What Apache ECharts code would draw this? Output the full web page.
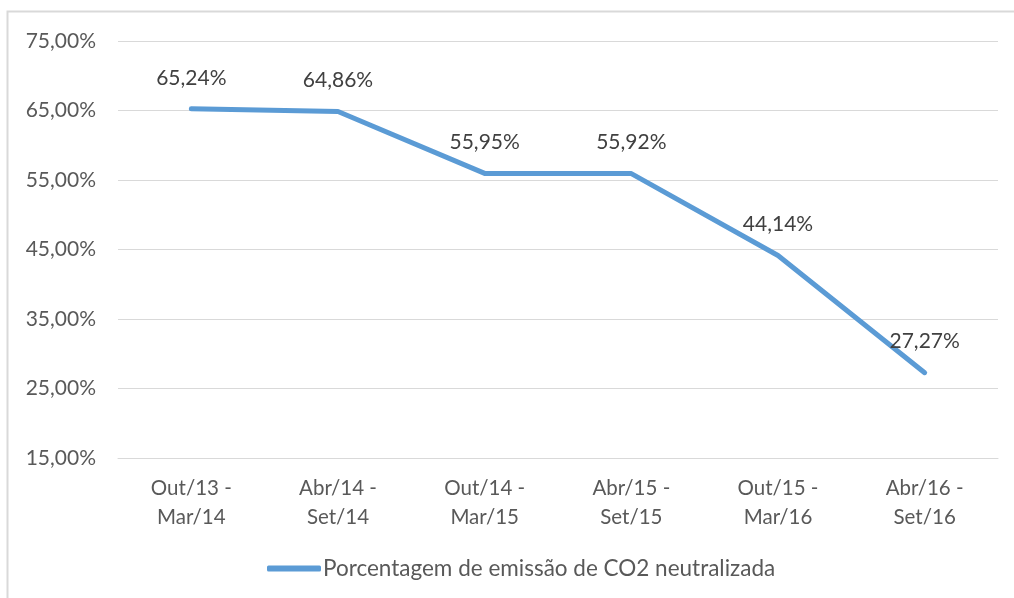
<!DOCTYPE html>
<html>
<head>
<meta charset="utf-8">
<script src="https://cdn.jsdelivr.net/npm/echarts@6/dist/echarts.min.js"></script>
<style>
  html, body { margin: 0; padding: 0; background: #fff; }
  #chart { width: 1014px; height: 598px; }
</style>
</head>
<body>
<div id="chart"></div>
<script>
// Semester periods and share of CO2 emissions neutralized (%)
const categories = [
  'Out/13 -\nMar/14',
  'Abr/14 -\nSet/14',
  'Out/14 -\nMar/15',
  'Abr/15 -\nSet/15',
  'Out/15 -\nMar/16',
  'Abr/16 -\nSet/16'
];
const values = [65.24, 64.86, 55.95, 55.92, 44.14, 27.27];
const seriesName = 'Porcentagem de emissão de CO2 neutralizada';

const FONT = 'Lato, "Open Sans", sans-serif';
const TEXT = '#595959';
const GRID = '#d9d9d9';
const LINE = '#5b9bd5';

const fmt = v => v.toFixed(2).replace('.', ',') + '%';

const chart = echarts.init(document.getElementById('chart'), null, { renderer: 'canvas' });
chart.setOption({
  animation: false,
  backgroundColor: '#fff',
  textStyle: { fontFamily: FONT },
  graphic: [{
    type: 'rect',
    shape: { x: 7.5, y: 11.5, width: 1200, height: 800 },
    style: { fill: 'none', stroke: GRID, lineWidth: 2 },
    silent: true,
    z: -1
  }],
  grid: { left: 118, right: 16, top: 41, bottom: 140, containLabel: false },
  xAxis: {
    type: 'category',
    data: categories,
    boundaryGap: true,
    axisLine: { show: true, lineStyle: { color: GRID, width: 1 } },
    axisTick: { show: false },
    axisLabel: {
      color: TEXT, fontSize: 20.5, fontFamily: FONT,
      lineHeight: 29, margin: 16, interval: 0
    }
  },
  yAxis: {
    type: 'value',
    min: 15, max: 75, interval: 10,
    axisLine: { show: false },
    axisTick: { show: false },
    splitLine: { lineStyle: { color: GRID, width: 1 } },
    axisLabel: {
      color: TEXT, fontSize: 21, fontFamily: FONT, margin: 22,
      formatter: v => fmt(v)
    }
  },
  legend: {
    bottom: 13,
    left: 262,
    itemWidth: 54,
    itemHeight: 6,
    itemGap: 10,
    icon: 'roundRect',
    textStyle: { color: TEXT, fontSize: 22.5, fontFamily: FONT, padding: [0, 0, 0, -3] },
    data: [{ name: seriesName, itemStyle: { color: LINE } }]
  },
  series: [{
    name: seriesName,
    type: 'line',
    data: values,
    showSymbol: true,
    symbol: 'circle',
    symbolSize: 1,
    lineStyle: { color: LINE, width: 5, cap: 'round', join: 'round' },
    itemStyle: { color: LINE },
    label: {
      show: true,
      position: 'top',
      distance: 20,
      color: '#404040',
      fontSize: 21,
      fontFamily: FONT,
      formatter: p => fmt(p.value)
    }
  }]
});
</script>
</body>
</html>
